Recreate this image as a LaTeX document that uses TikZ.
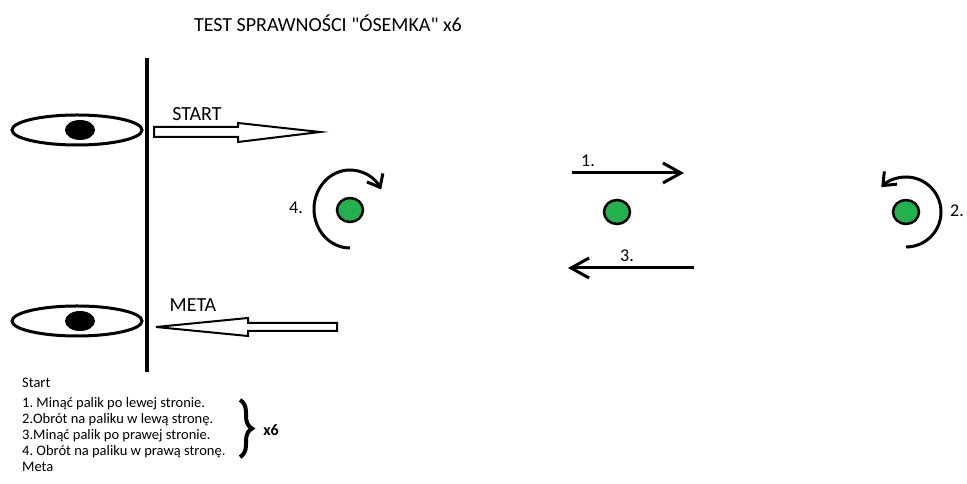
\documentclass[tikz,border=0pt]{standalone}
\usepackage{fontspec}
\setmainfont{Carlito}[Ligatures=TeXOff]
\usetikzlibrary{arrows.meta,shapes.geometric,decorations.pathreplacing}
\definecolor{polegreen}{RGB}{34,177,76}
\tikzset{
  pole/.style={ellipse, draw, line width=2.5pt, fill=polegreen, minimum width=26pt, minimum height=24pt, inner sep=0pt},
  eye/.style={ellipse, draw, line width=3pt, minimum width=130pt, minimum height=30pt, inner sep=0pt},
  pupil/.style={ellipse, fill=black, minimum width=30pt, minimum height=20pt, inner sep=0pt},
  hollow/.style={line width=2pt, fill=white},
  pass/.style={line width=3pt, -{Straight Barb[length=18pt,width=20pt]}},
  turn/.style={line width=3pt, -{Straight Barb[length=11pt,width=18pt]}},
  big/.style={font=\fontsize{20}{23}\selectfont},
  num/.style={font=\fontsize{18}{21}\selectfont, inner sep=1pt}
}
\begin{document}
\frenchspacing
\begin{tikzpicture}[x=1pt, y=1pt]
    \useasboundingbox (0,0) rectangle (967,484);
    \node[big] (title) at (328,461) {TEST SPRAWNOŚCI "ÓSEMKA" x6};
    % start / meta line and the two eyes
    \draw [line width=3.5pt] (147,426) -- (147,112);
    \node[eye] (eyestart) at (77,354) {};
    \node[pupil] (pupilstart) at (80,354) {};
    \node[eye] (eyemeta) at (77,163) {};
    \node[pupil] (pupilmeta) at (80,163) {};
    \node[big] (start) at (197,370) {START};
    \node[big] (meta) at (193,179) {META};
    \draw [hollow] (154,357) -- (238,357) -- (238,361) -- (320,352) -- (238,342) -- (238,347) -- (154,347) -- cycle;
    \draw [hollow] (337,161) -- (248,161) -- (248,166) -- (156,157) -- (248,148) -- (248,153) -- (337,153) -- cycle;
    % poles
    \node[pole] (poleleft) at (350,274) {};
    \node[pole] (polemid) at (617,272) {};
    \node[pole] (poleright) at (906,272) {};
    \draw [turn] ([yshift=-38pt]poleleft.center) arc [start angle=270, end angle=30, x radius=36, y radius=39];
    \draw [turn] ([yshift=-35pt]poleright.center) arc [start angle=-90, end angle=135, x radius=35, y radius=35];
    \node[num] (lbl4) at (296,276) {4.};
    \node[num, anchor=west] (lbl2) at (949,273) {2.};
    \coordinate (passone) at (572,311);
    \coordinate (passoneend) at (684,311);
    \draw [pass] (passone) -- (passoneend);
    \node[num] (lbl1) at (588,323) {1.};
    \coordinate (passthree) at (694,216);
    \coordinate (passthreeend) at (568,216);
    \draw [pass] (passthree) -- (passthreeend);
    \node[num] (lbl3) at (627,228) {3.};
    % rules
    \node[anchor=north west, align=left, inner sep=0pt, font=\fontsize{14.5}{16}\selectfont] (rules) at (22,106)
      {Start\\[4pt]1. Minąć palik po lewej stronie.\\2.Obrót na paliku w lewą stronę.\\3.Minąć palik po prawej stronie.\\4. Obrót na paliku w prawą stronę.\\Meta};
    \coordinate (bracetop) at (240,84);
    \coordinate (bracebottom) at (240,27);
    \draw [decorate, decoration={brace, amplitude=12pt}, line width=4pt] (bracetop) -- (bracebottom);
    \node[font=\fontsize{16}{18}\bfseries] (times) at (271,54) {x6};
\end{tikzpicture}
\end{document}
